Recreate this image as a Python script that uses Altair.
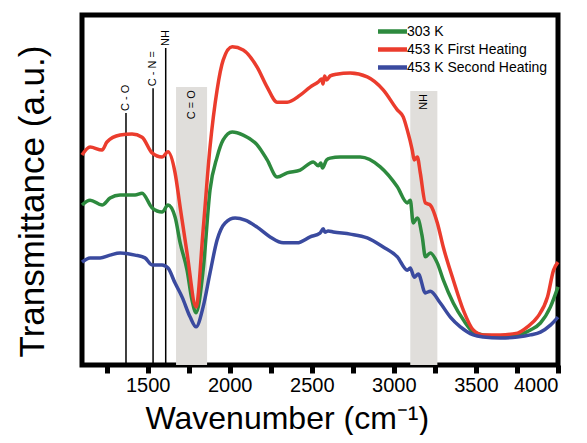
import altair as alt
import pandas as pd

FONT = "Liberation Sans, Arial"

# ---- data (wavenumber cm-1, transmittance a.u. 0-100) ----
wn_303 = [1100, 1149, 1222, 1271, 1332, 1423, 1466, 1527, 1588, 1624, 1667, 1698, 1740, 1770, 1795,
          1838, 1880, 1923, 1960, 2015, 2082, 2167, 2228, 2289, 2350, 2429, 2509, 2540, 2555, 2565,
          2590, 2612, 2673, 2795, 2917, 3021, 3082, 3100, 3118, 3143, 3173, 3192, 3222, 3265, 3301,
          3362, 3423, 3484, 3545, 3649, 3753, 3832, 3893, 3954, 4000]
t_303 = [45.7, 47.1, 45.7, 47.7, 48.6, 48.6, 49.1, 44.9, 43.7, 45.7, 42.3, 34.9, 27.1, 18.6, 14.9,
         27.1, 50.0, 59.4, 64.3, 66.6, 65.7, 62.9, 58.6, 53.7, 54.9, 55.7, 58.0, 56.9, 57.7, 56.3,
         58.6, 59.1, 59.4, 59.4, 56.6, 50.9, 46.3, 47.1, 40.6, 42.0, 36.6, 30.9, 32.0, 29.1, 24.3,
         17.7, 12.9, 9.4, 8.6, 8.3, 8.6, 10.0, 12.0, 16.6, 22.3]

wn_first = [1100, 1149, 1222, 1252, 1332, 1405, 1466, 1527, 1588, 1624, 1667, 1698, 1740, 1795,
            1838, 1880, 1923, 1960, 2015, 2082, 2167, 2228, 2289, 2350, 2429, 2490, 2540, 2560,
            2568, 2578, 2590, 2612, 2650, 2734, 2838, 2935, 3021, 3057, 3082, 3112, 3124, 3143,
            3161, 3192, 3222, 3265, 3301, 3362, 3423, 3484, 3545, 3649, 3753, 3814, 3875, 3936,
            3973, 4000]
t_first = [60.0, 62.3, 61.4, 63.7, 65.7, 66.0, 65.1, 60.6, 59.4, 60.9, 54.9, 45.1, 32.0, 16.6,
           38.6, 62.3, 78.6, 87.1, 90.9, 90.0, 85.1, 79.4, 75.1, 75.1, 77.1, 79.4, 80.9, 81.7,
           80.3, 82.6, 81.4, 82.6, 83.1, 83.4, 82.3, 78.6, 72.9, 70.9, 67.1, 61.4, 58.6, 59.4,
           54.9, 46.3, 45.7, 40.6, 33.7, 24.3, 15.7, 10.0, 8.6, 8.6, 9.1, 10.9, 13.7, 19.4,
           27.1, 29.4]

wn_second = [1100, 1149, 1210, 1271, 1332, 1423, 1484, 1527, 1588, 1624, 1667, 1710, 1759, 1795,
             1838, 1880, 1923, 1972, 2033, 2094, 2167, 2246, 2326, 2411, 2490, 2550, 2570, 2580,
             2600, 2631, 2734, 2838, 2935, 3021, 3082, 3100, 3124, 3149, 3192, 3222, 3283, 3344,
             3405, 3484, 3545, 3649, 3753, 3832, 3893, 3954, 4000]
t_second = [29.4, 30.6, 30.6, 31.4, 32.0, 31.4, 30.6, 28.6, 28.6, 27.7, 23.4, 19.4, 13.7, 10.9,
            16.6, 26.3, 35.7, 40.6, 42.0, 41.4, 39.4, 36.6, 34.9, 34.9, 36.6, 37.7, 38.9, 37.9,
            38.3, 38.0, 37.4, 36.3, 33.7, 30.9, 27.1, 27.7, 25.1, 26.0, 20.6, 21.1, 17.7, 13.7,
            10.9, 8.6, 8.0, 7.7, 8.0, 8.6, 9.4, 11.4, 13.7]

series_names = ["303 K", "453 K First Heating", "453 K Second Heating"]
series_colors = ["#2d8a3e", "#eb3c2d", "#3a4a9f"]

# annotation lines (C-O, C-N=, NH)
ann_labels = ["C - O", "C - N =", "NH"]
ann_wn = [1368, 1533, 1610]
ann_top = [72.0, 79.1, 90.6]

# shaded bands (C=O, NH)
band_labels = ["C = O", "NH"]
band_start = [1673, 3100]
band_end = [1862, 3265]
band_top = [79.4, 78.3]

x_ticks = list(range(1250, 4001, 250))

# ---- tables ----
rows = []
for name, wns, ts in zip(series_names, [wn_303, wn_first, wn_second], [t_303, t_first, t_second]):
    for w, t in zip(wns, ts):
        rows.append({"wn": w, "T": t, "series": name})
spectra = pd.DataFrame(rows)
ann = pd.DataFrame({"label": ann_labels, "wn": ann_wn, "top": ann_top, "bottom": 0})
bands = pd.DataFrame({"label": band_labels, "start": band_start, "end": band_end,
                      "top": band_top, "bottom": 0,
                      "mid": [(a + b) / 2 for a, b in zip(band_start, band_end)]})

xscale = alt.Scale(domain=[1100, 4000], nice=False, zero=False)
yscale = alt.Scale(domain=[0, 100], nice=False, zero=False)

xaxis = alt.Axis(values=x_ticks, format="d",
                 labelExpr="datum.value % 500 == 0 ? datum.label : ''",
                 tickSize=8, tickWidth=5, tickColor="black", domain=False, grid=False,
                 labelFont=FONT, labelFontSize=20, labelColor="black", labelPadding=2,
                 title="Wavenumber (cm\u207b\u00b9)", titleFont=FONT, titleFontSize=32,
                 titleFontWeight="normal", titleColor="black", titleAlign="left",
                 titleBaseline="alphabetic", titleX=63, titleY=63)
yaxis = alt.Axis(labels=False, ticks=False, domain=False, grid=False,
                 title="Transmittance (a.u.)", titleFont=FONT, titleFontSize=35,
                 titleFontWeight="normal", titleColor="black", titleAngle=270,
                 titleAlign="center", titleBaseline="alphabetic", titleX=-39, titleY=186)

band_rect = alt.Chart(bands).mark_rect(color="#e0dedb").encode(
    x=alt.X("start:Q", scale=xscale, axis=xaxis),
    x2="end:Q",
    y=alt.Y("top:Q", scale=yscale, axis=yaxis),
    y2="bottom:Q",
)
band_text = alt.Chart(bands).mark_text(angle=270, align="right", baseline="middle", dx=-3,
                                       font=FONT, fontSize=11, color="black").encode(
    x="mid:Q", y="top:Q", text="label:N")

ann_rule = alt.Chart(ann).mark_rule(color="black", strokeWidth=1.5).encode(
    x="wn:Q", y="top:Q", y2="bottom:Q")
ann_text = alt.Chart(ann).mark_text(angle=270, align="left", baseline="middle", dx=2,
                                    font=FONT, fontSize=11, color="black").encode(
    x="wn:Q", y="top:Q", text="label:N")

lines = alt.Chart(spectra).mark_line(strokeWidth=3.5, interpolate="monotone").encode(
    x="wn:Q", y="T:Q",
    color=alt.Color("series:N",
                    scale=alt.Scale(domain=series_names, range=series_colors),
                    legend=alt.Legend(title=None, orient="none", legendX=303, legendY=9,
                                      symbolType="M-2.9,0H2.9", symbolSize=100,
                                      symbolStrokeWidth=4.5,
                                      labelFont=FONT, labelFontSize=14, labelColor="black",
                                      labelOffset=7, rowPadding=-1, padding=0, labelLimit=300)),
    order="series:N",
)

chart = alt.layer(band_rect, band_text, ann_rule, ann_text, lines).properties(
    width=476, height=350,
    padding={"left": 74, "top": 7, "right": 21, "bottom": 70},
    autosize=alt.AutoSizeParams(type="none"),
).configure_view(stroke="black", strokeWidth=5)

chart.save("out.html", embed_options={"renderer": "svg", "actions": False})
